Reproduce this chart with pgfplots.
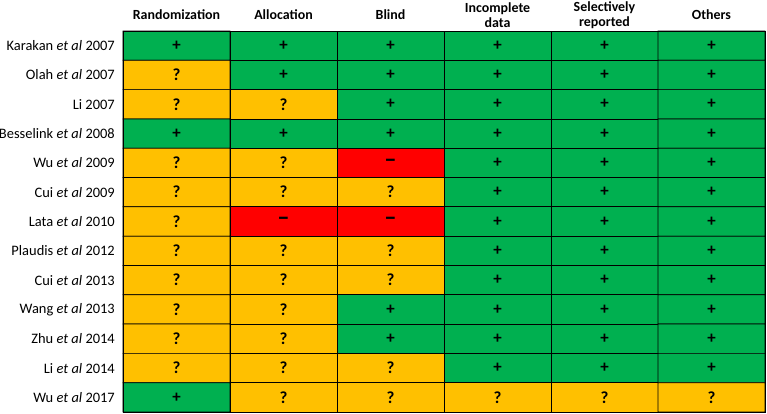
\documentclass[border=0pt]{standalone}
\usepackage{fontspec}
\setmainfont{Carlito}
\usepackage{graphicx}
\usepackage{pgfplots}
\usepackage{pgfplotstable}
\pgfplotsset{compat=1.18}
\definecolor{robgreen}{HTML}{00B050}
\definecolor{robyellow}{HTML}{FFC000}
\definecolor{robred}{HTML}{FF0000}

\def\robM{m}
\newcommand\robsym{\edef\robcur{\pgfplotspointmeta}\ifx\robcur\robM\scalebox{1.45}[1.5]{–}\else\pgfplotspointmeta\fi}

% c: 0 = high risk (red), 1 = unclear (yellow), 2 = low risk (green); s: m = minus
\pgfplotstableread{
x y c s
0.5 0.5 2 +
1.5 0.5 2 +
2.5 0.5 2 +
3.5 0.5 2 +
4.5 0.5 2 +
5.5 0.5 2 +
0.5 1.5 1 ?
1.5 1.5 2 +
2.5 1.5 2 +
3.5 1.5 2 +
4.5 1.5 2 +
5.5 1.5 2 +
0.5 2.5 1 ?
1.5 2.5 1 ?
2.5 2.5 2 +
3.5 2.5 2 +
4.5 2.5 2 +
5.5 2.5 2 +
0.5 3.5 2 +
1.5 3.5 2 +
2.5 3.5 2 +
3.5 3.5 2 +
4.5 3.5 2 +
5.5 3.5 2 +
0.5 4.5 1 ?
1.5 4.5 1 ?
2.5 4.5 0 m
3.5 4.5 2 +
4.5 4.5 2 +
5.5 4.5 2 +
0.5 5.5 1 ?
1.5 5.5 1 ?
2.5 5.5 1 ?
3.5 5.5 2 +
4.5 5.5 2 +
5.5 5.5 2 +
0.5 6.5 1 ?
1.5 6.5 0 m
2.5 6.5 0 m
3.5 6.5 2 +
4.5 6.5 2 +
5.5 6.5 2 +
0.5 7.5 1 ?
1.5 7.5 1 ?
2.5 7.5 1 ?
3.5 7.5 2 +
4.5 7.5 2 +
5.5 7.5 2 +
0.5 8.5 1 ?
1.5 8.5 1 ?
2.5 8.5 1 ?
3.5 8.5 2 +
4.5 8.5 2 +
5.5 8.5 2 +
0.5 9.5 1 ?
1.5 9.5 1 ?
2.5 9.5 2 +
3.5 9.5 2 +
4.5 9.5 2 +
5.5 9.5 2 +
0.5 10.5 1 ?
1.5 10.5 1 ?
2.5 10.5 2 +
3.5 10.5 2 +
4.5 10.5 2 +
5.5 10.5 2 +
0.5 11.5 1 ?
1.5 11.5 1 ?
2.5 11.5 1 ?
3.5 11.5 2 +
4.5 11.5 2 +
5.5 11.5 2 +
0.5 12.5 2 +
1.5 12.5 1 ?
2.5 12.5 1 ?
3.5 12.5 1 ?
4.5 12.5 1 ?
5.5 12.5 1 ?
}\robdata

\begin{document}
\begin{tikzpicture}
\begin{axis}[
  scale only axis,
  width=642bp, height=381bp,
  xmin=0, xmax=6, ymin=0, ymax=13,
  y dir=reverse,
  axis on top,
  axis line style={black, line width=0.8bp},
  major tick length=0pt,
  xtick={0.5,1.5,2.5,3.5,4.5,5.5},
  xticklabels={Randomization, Allocation, Blind, {Incomplete\\data}, {Selectively\\reported}, Others},
  xticklabel pos=upper,
  xticklabel style={font=\fontsize{14}{14.5}\selectfont\bfseries, align=center, anchor=center, inner sep=0pt, yshift=16bp},
  ytick={0.5,1.5,2.5,3.5,4.5,5.5,6.5,7.5,8.5,9.5,10.5,11.5,12.5},
  yticklabels={
    {Karakan \textit{et al} 2007},
    {Olah \textit{et al} 2007},
    {Li 2007},
    {Besselink \textit{et al} 2008},
    {Wu \textit{et al} 2009},
    {Cui \textit{et al} 2009},
    {Lata \textit{et al} 2010},
    {Plaudis \textit{et al} 2012},
    {Cui \textit{et al} 2013},
    {Wang \textit{et al} 2013},
    {Zhu \textit{et al} 2014},
    {Li \textit{et al} 2014},
    {Wu \textit{et al} 2017}},
  yticklabel style={font=\fontsize{14.5}{16}\selectfont, anchor=east, inner sep=0pt, xshift=-8bp},
  colormap={rob}{color=(robred) color=(robyellow) color=(robgreen)},
  colormap access=direct,
  clip=false,
]
\addplot[matrix plot*, shader=faceted, faceted color=black, line width=0.7bp,
  mesh/cols=6, mesh/ordering=x varies, point meta=explicit]
  table[x=x, y=y, meta=c] {\robdata};
\addplot[only marks, mark=none, nodes near coords={\robsym}, point meta=explicit symbolic,
  every node near coord/.append style={font=\fontsize{17}{18}\selectfont\bfseries, anchor=center, inner sep=0pt}]
  table[x=x, y=y, meta=s] {\robdata};
\end{axis}
\pgfresetboundingbox
\path (current axis.south west) ++(-123bp,-2bp) rectangle ++(767bp,414bp);
\end{tikzpicture}
\end{document}
